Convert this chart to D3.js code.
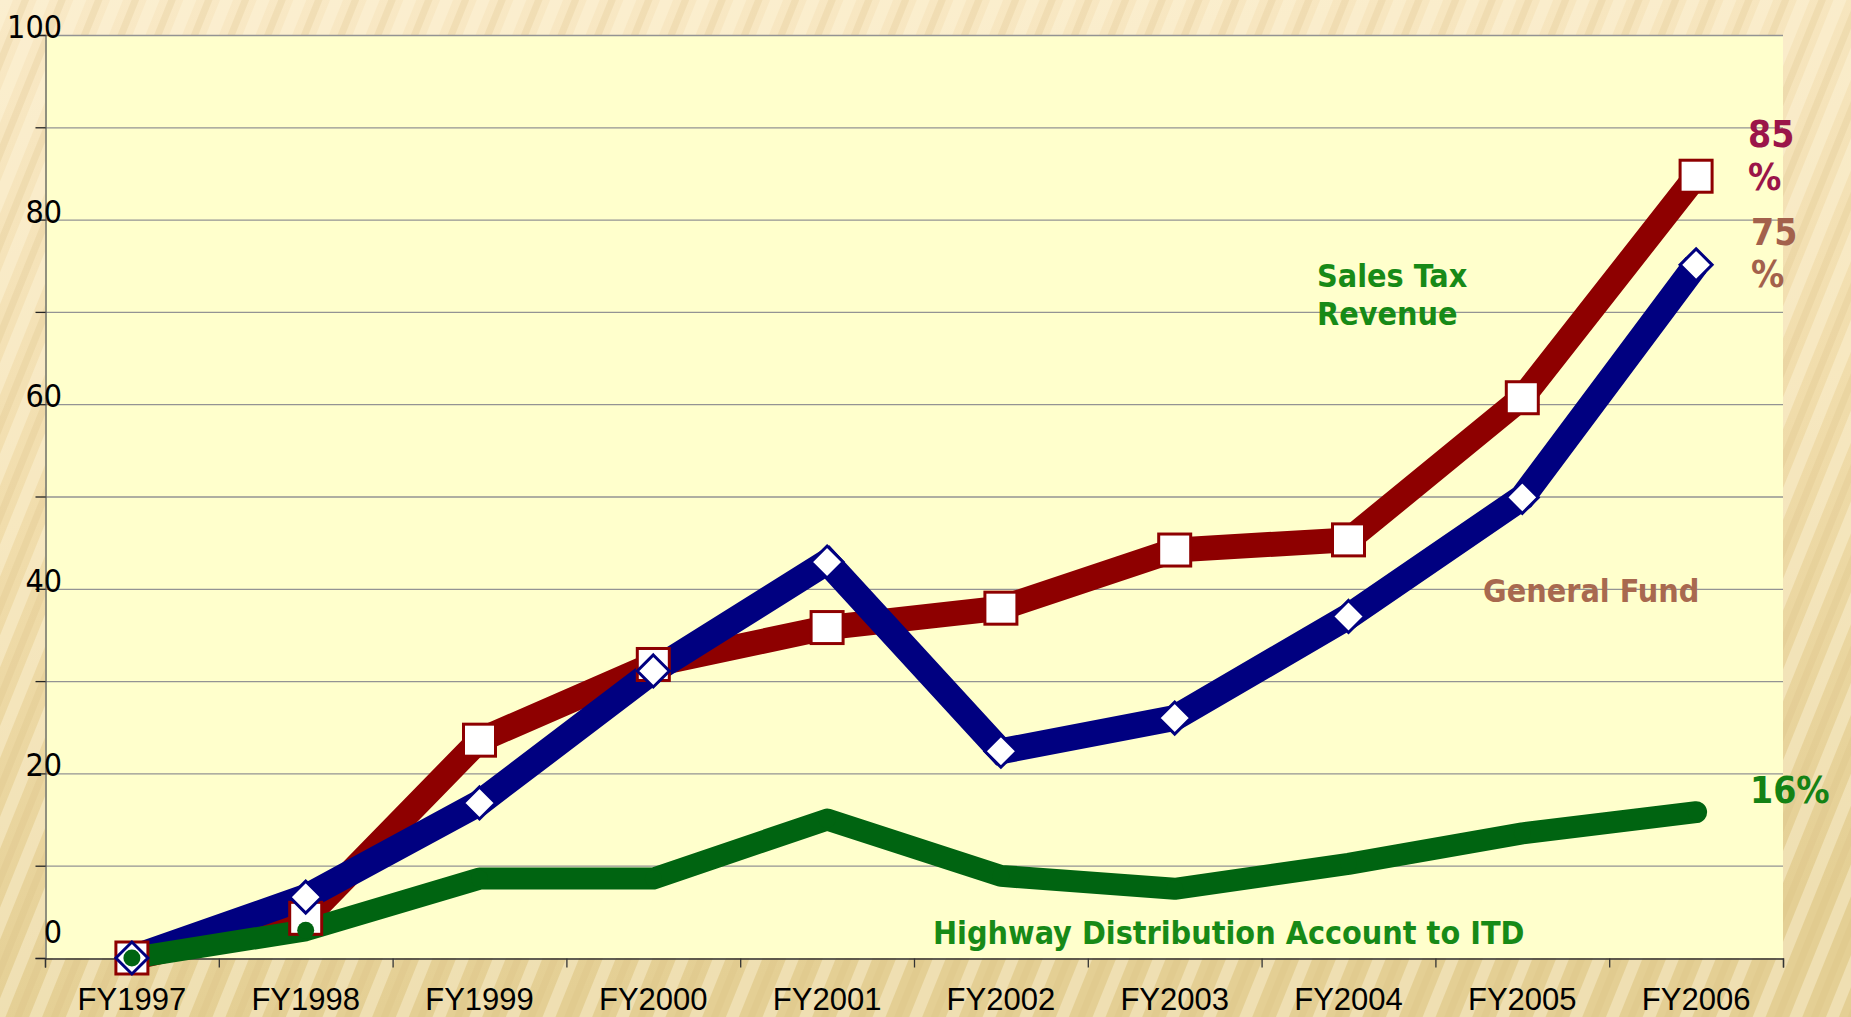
<!DOCTYPE html>
<html>
<head>
<meta charset="utf-8">
<script src="https://cdn.jsdelivr.net/npm/d3@7"></script>
<style>
  html, body { margin: 0; padding: 0; overflow: hidden; }
  svg { display: block; }
</style>
</head>
<body>
<script>
// Chart values.
const years = ["FY1997", "FY1998", "FY1999", "FY2000", "FY2001", "FY2002", "FY2003", "FY2004", "FY2005", "FY2006"];
const salesTax = [0, 4.3, 23.6, 31.8, 35.8, 37.9, 44.2, 45.3, 60.7, 84.7];   // red, squares
const generalFund = [0, 6.6, 16.8, 31.1, 42.9, 22.4, 26.0, 37.0, 49.9, 75.1]; // blue, diamonds
const highway = [0, 3.0, 8.6, 8.6, 15.0, 8.9, 7.5, 10.2, 13.5, 15.8];          // green, dots
const yTicks = [0, 10, 20, 30, 40, 50, 60, 70, 80, 90, 100];
const yLabels = [0, 20, 40, 60, 80, 100];

const width = 1851, height = 1017;
const plot = { left: 45, right: 1783, top: 35, bottom: 958 };
const condensed = "'DejaVu Sans Condensed', 'DejaVu Sans', sans-serif";

const svg = d3.select("body").append("svg")
    .attr("width", width)
    .attr("height", height);

// Wood-like slide background.
const defs = svg.append("defs");
const bg = defs.append("linearGradient").attr("id", "bg")
    .attr("x1", 0).attr("y1", 0).attr("x2", 0.15).attr("y2", 1);
bg.append("stop").attr("offset", "0%").attr("stop-color", "#f9e9c6");
bg.append("stop").attr("offset", "50%").attr("stop-color", "#f1ddac");
bg.append("stop").attr("offset", "100%").attr("stop-color", "#e4cf94");

const stripes = defs.append("pattern").attr("id", "stripes")
    .attr("patternUnits", "userSpaceOnUse")
    .attr("width", 34).attr("height", 34)
    .attr("patternTransform", "rotate(22)");
stripes.append("rect").attr("width", 12).attr("height", 34).attr("fill", "#fff7df").attr("opacity", 0.4);
stripes.append("rect").attr("x", 20).attr("width", 7).attr("height", 34).attr("fill", "#d6bb7e").attr("opacity", 0.22);

svg.append("rect").attr("width", width).attr("height", height).attr("fill", "url(#bg)");
svg.append("rect").attr("width", width).attr("height", height).attr("fill", "url(#stripes)");

// Scales.
const x = d3.scalePoint().domain(years).range([plot.left, plot.right]).padding(0.5);
const xEdge = d3.scaleLinear().domain([0, years.length]).range([plot.left, plot.right]);
const y = d3.scaleLinear().domain([0, 100]).range([plot.bottom, plot.top]);

// Plot area.
svg.append("rect")
    .attr("x", plot.left).attr("y", plot.top)
    .attr("width", plot.right - plot.left).attr("height", plot.bottom - plot.top)
    .attr("fill", "#ffffcc");

// Gridlines.
svg.append("g").selectAll("line")
    .data(yTicks.filter(d => d > 0))
    .join("line")
    .attr("x1", plot.left).attr("x2", plot.right)
    .attr("y1", d => y(d) + 0.5).attr("y2", d => y(d) + 0.5)
    .attr("stroke", "#939393").attr("stroke-width", 1.3);

// Y axis.
const yAxis = svg.append("g")
    .attr("transform", `translate(${plot.left + 0.5},0)`)
    .call(d3.axisLeft(y).tickValues(yTicks).tickSize(10).tickFormat(""));
yAxis.select(".domain").attr("stroke", "#555").attr("stroke-width", 1.3);
yAxis.selectAll(".tick line").attr("stroke", "#222").attr("stroke-width", 1.3);

// Labels sit just on the gridline; the zero label is lifted above the axis.
svg.append("g").selectAll("text")
    .data(yLabels)
    .join("text")
    .attr("x", 62)
    .attr("y", d => d === 0 ? y(d) - 15 : y(d) + 3)
    .attr("text-anchor", "end")
    .attr("font-family", condensed)
    .attr("font-size", 32)
    .attr("fill", "#000")
    .text(d => d);

// X axis: ticks at category edges, labels at category centres.
const xAxis = svg.append("g")
    .attr("transform", `translate(0,${plot.bottom + 0.5})`)
    .call(d3.axisBottom(xEdge).ticks(years.length).tickSize(9).tickFormat(""));
xAxis.select(".domain").attr("stroke", "#333").attr("stroke-width", 1.3);
xAxis.selectAll(".tick line").attr("stroke", "#333").attr("stroke-width", 1.3);

svg.append("g").selectAll("text")
    .data(years)
    .join("text")
    .attr("x", d => x(d))
    .attr("y", 1010)
    .attr("text-anchor", "middle")
    .attr("font-family", "'Liberation Sans', Arial, sans-serif")
    .attr("font-size", 31)
    .attr("fill", "#000")
    .text(d => d);

// Lines.
const line = d3.line().x((d, i) => x(years[i])).y(d => y(d));

svg.append("path").datum(salesTax)
    .attr("d", line).attr("fill", "none")
    .attr("stroke", "#8e0000").attr("stroke-width", 25)
    .attr("stroke-linejoin", "miter");

svg.append("path").datum(generalFund)
    .attr("d", line).attr("fill", "none")
    .attr("stroke", "#000080").attr("stroke-width", 26)
    .attr("stroke-linejoin", "miter");

svg.append("path").datum(highway)
    .attr("d", line).attr("fill", "none")
    .attr("stroke", "#006411").attr("stroke-width", 22)
    .attr("stroke-linejoin", "round").attr("stroke-linecap", "round");

// Markers.
svg.append("g").selectAll("rect")
    .data(salesTax)
    .join("rect")
    .attr("x", (d, i) => x(years[i]) - 16)
    .attr("y", d => y(d) - 16)
    .attr("width", 32).attr("height", 32)
    .attr("fill", "#fff").attr("stroke", "#8e0000").attr("stroke-width", 3);

svg.append("g").selectAll("path")
    .data(generalFund)
    .join("path")
    .attr("transform", (d, i) => `translate(${x(years[i])},${y(d)})`)
    .attr("d", "M0,-16L16,0L0,16L-16,0Z")
    .attr("fill", "#fff").attr("stroke", "#000080").attr("stroke-width", 3);

svg.append("g").selectAll("circle")
    .data(highway)
    .join("circle")
    .attr("cx", (d, i) => x(years[i]))
    .attr("cy", d => y(d))
    .attr("r", 8.5)
    .attr("fill", "#006411");

// Annotations.
function label(lines, x0, y0, color, size, lineHeight) {
    svg.append("text")
        .attr("x", x0).attr("y", y0)
        .attr("font-family", condensed)
        .attr("font-weight", "bold")
        .attr("font-size", size)
        .attr("fill", color)
        .selectAll("tspan")
        .data(lines)
        .join("tspan")
        .attr("x", x0)
        .attr("dy", (d, i) => i ? lineHeight : 0)
        .text(d => d);
}

label(["85", "%"], 1748, 147, "#9b1549", 37, 43);
label(["75", "%"], 1751, 245, "#a3614c", 37, 42);
label(["16%"], 1750, 803, "#148214", 37, 0);
label(["Sales Tax", "Revenue"], 1317, 287, "#178a17", 32, 38);
label(["General Fund"], 1483, 602, "#a8694f", 32, 0);
label(["Highway Distribution Account to ITD"], 933, 944, "#178a17", 32, 0);
</script>
</body>
</html>
